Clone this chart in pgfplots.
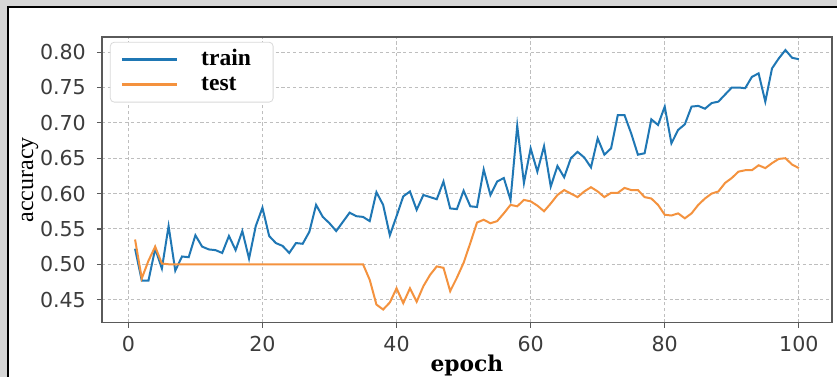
\documentclass[border=0pt]{standalone}
\usepackage{pgfplots}
\pgfplotsset{compat=1.18}
\usepackage{fontspec}
\setmainfont{Liberation Serif}
\newfontfamily\dvsans{DejaVu Sans}
\newfontfamily\dvserif{DejaVu Serif}
\definecolor{mplblue}{RGB}{31,119,180}
\definecolor{mplorange}{RGB}{244,146,62}
\definecolor{bgray}{RGB}{214,214,214}
\definecolor{axgray}{RGB}{90,90,90}
\definecolor{tickgray}{RGB}{60,60,60}
\definecolor{gridgray}{RGB}{190,190,190}
\pgfplotstableread{
e train test
1 0.522 0.535
2 0.477 0.480
3 0.477 0.505
4 0.522 0.525
5 0.494 0.501
6 0.554 0.500
7 0.491 0.500
8 0.511 0.500
9 0.510 0.500
10 0.541 0.500
11 0.525 0.500
12 0.521 0.500
13 0.520 0.500
14 0.516 0.500
15 0.540 0.500
16 0.520 0.500
17 0.547 0.500
18 0.508 0.500
19 0.554 0.500
20 0.580 0.500
21 0.540 0.500
22 0.530 0.500
23 0.526 0.500
24 0.516 0.500
25 0.530 0.500
26 0.529 0.500
27 0.546 0.500
28 0.584 0.500
29 0.567 0.500
30 0.558 0.500
31 0.547 0.500
32 0.560 0.500
33 0.573 0.500
34 0.568 0.500
35 0.567 0.500
36 0.561 0.478
37 0.602 0.443
38 0.584 0.436
39 0.541 0.446
40 0.568 0.466
41 0.596 0.445
42 0.603 0.466
43 0.577 0.447
44 0.598 0.469
45 0.595 0.485
46 0.592 0.497
47 0.617 0.495
48 0.579 0.462
49 0.578 0.481
50 0.604 0.502
51 0.582 0.530
52 0.581 0.559
53 0.634 0.563
54 0.598 0.558
55 0.617 0.561
56 0.622 0.572
57 0.591 0.584
58 0.696 0.582
59 0.615 0.591
60 0.664 0.589
61 0.631 0.583
62 0.667 0.575
63 0.610 0.586
64 0.639 0.598
65 0.623 0.605
66 0.650 0.600
67 0.659 0.595
68 0.651 0.603
69 0.637 0.609
70 0.678 0.603
71 0.655 0.595
72 0.664 0.601
73 0.711 0.601
74 0.711 0.608
75 0.685 0.605
76 0.655 0.605
77 0.657 0.595
78 0.705 0.593
79 0.697 0.584
80 0.723 0.570
81 0.671 0.569
82 0.690 0.572
83 0.698 0.565
84 0.723 0.572
85 0.724 0.584
86 0.720 0.593
87 0.728 0.600
88 0.730 0.603
89 0.740 0.615
90 0.750 0.622
91 0.750 0.631
92 0.749 0.633
93 0.765 0.633
94 0.770 0.640
95 0.730 0.636
96 0.777 0.643
97 0.791 0.649
98 0.803 0.650
99 0.792 0.641
100 0.790 0.636
}\acc
\begin{document}
\begin{tikzpicture}
\fill[bgray] (-51pt,-27pt) rectangle (368pt,161.5pt);
\fill[white] (-47pt,-27pt) rectangle (368pt,158pt);
\draw[black, line width=1pt] (-47pt,-27pt) -- (-47pt,158pt) -- (368pt,158pt);
\useasboundingbox (-51pt,-27pt) rectangle (368pt,161.5pt);
\begin{axis}[
  scale only axis, width=365.5pt, height=143pt,
  xmin=-3.95, xmax=104.95, ymin=0.4175, ymax=0.8215,
  xtick={0,20,40,60,80,100},
  ytick={0.45,0.50,0.55,0.60,0.65,0.70,0.75,0.80},
  /pgf/number format/assume math mode=true,
  tick label style={font=\dvsans\fontsize{10.3}{12}\selectfont, text=tickgray},
  xticklabel style={yshift=-0.8pt},
  yticklabel style={xshift=-2pt, /pgf/number format/.cd, fixed, fixed zerofill, precision=2},
  grid=major,
  major grid style={draw=gridgray, line width=0.45pt, dash pattern=on 1.6pt off 1.3pt},
  axis line style={draw=axgray, line width=0.8pt},
  tick pos=left, tick align=outside, major tick length=2.5pt,
  tick style={draw=axgray, line width=0.6pt},
  xlabel={epoch}, ylabel={accuracy},
  xlabel style={font=\dvserif\bfseries\fontsize{10.9}{13}\selectfont, at={(axis description cs:0.5,-0.15)}, anchor=center},
  ylabel style={font=\fontsize{12}{13}\selectfont, at={(axis description cs:-0.0985,0.5)}, anchor=center},
  legend cell align=left,
  legend image code/.code={\draw[#1, line width=1.5pt] (0pt,0pt) -- (27.5pt,0pt);},
  legend style={at={(axis description cs:0.011,0.983)}, anchor=north west,
    draw=gray!30, rounded corners=2pt, fill=white,
    inner xsep=5pt, inner ysep=3.5pt, row sep=2pt,
    font=\bfseries\fontsize{11.8}{13}\selectfont,
    nodes={inner sep=0pt, text height=8pt, text depth=2.5pt},
    /tikz/every odd column/.append style={column sep=11.5pt}},
]
\addplot[mplblue, line width=1pt] table[x=e, y=train] {\acc};
\addlegendentry{\makebox[31pt][l]{train}}
\addplot[mplorange, line width=1pt] table[x=e, y=test] {\acc};
\addlegendentry{\makebox[31pt][l]{test}}
\end{axis}
\end{tikzpicture}
\end{document}
